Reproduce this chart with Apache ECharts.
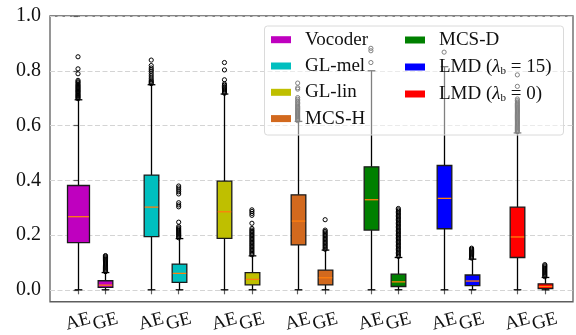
<!DOCTYPE html>
<html>
<head>
<meta charset="utf-8">
<script src="https://cdn.jsdelivr.net/npm/echarts@6/dist/echarts.min.js"></script>
<style>
  html, body { margin: 0; padding: 0; background: #ffffff; }
  #chart { width: 576px; height: 335px; }
</style>
</head>
<body>
<div id="chart"></div>
<script>
// Methods compared, one colour each
const methods = ['Vocoder', 'GL-mel', 'GL-lin', 'MCS-H', 'MCS-D', 'LMD (λb = 15)', 'LMD (λb = 0)'];
const errorLabels = ['AE', 'GE'];
const yTicks = [0.0, 0.2, 0.4, 0.6, 0.8, 1.0];

// Box summaries: [lower whisker, Q1, median, Q3, upper whisker]
const aeStats = [
  [0, 0.172, 0.267, 0.381, 0.694],
  [0, 0.194, 0.302, 0.419, 0.749],
  [0, 0.188, 0.285, 0.397, 0.715],
  [0, 0.164, 0.251, 0.347, 0.615],
  [0, 0.218, 0.329, 0.449, 0.800],
  [0, 0.223, 0.334, 0.454, 0.815],
  [0, 0.118, 0.193, 0.302, 0.573]
];
const geStats = [
  [0, 0.009, 0.017, 0.033, 0.063],
  [0, 0.027, 0.060, 0.094, 0.187],
  [0, 0.018, 0.038, 0.063, 0.124],
  [0, 0.018, 0.044, 0.072, 0.145],
  [0, 0.012, 0.029, 0.057, 0.118],
  [0, 0.015, 0.032, 0.054, 0.112],
  [0, 0.004, 0.012, 0.022, 0.045]
];

// Outlying samples beyond the whiskers
const aeOutliers = [
  [0.698, 0.702, 0.705, 0.709, 0.712, 0.716, 0.720, 0.724, 0.727, 0.731, 0.735, 0.739, 0.743, 0.747, 0.751, 0.756, 0.760, 0.765, 0.789, 0.807, 0.851],
  [0.753, 0.757, 0.761, 0.766, 0.773, 0.781, 0.789, 0.797, 0.803, 0.810, 0.819, 0.839],
  [0.718, 0.722, 0.726, 0.730, 0.734, 0.738, 0.742, 0.747, 0.752, 0.767, 0.803, 0.830],
  [0.618, 0.622, 0.626, 0.630, 0.634, 0.638, 0.642, 0.646, 0.650, 0.654, 0.658, 0.662, 0.666, 0.670, 0.675, 0.680, 0.685, 0.690, 0.696, 0.702, 0.733, 0.738, 0.755],
  [0.830, 0.873, 0.882],
  [0.868],
  [0.577, 0.581, 0.585, 0.589, 0.593, 0.597, 0.601, 0.605, 0.609, 0.613, 0.617, 0.621, 0.625, 0.629, 0.633, 0.637, 0.641, 0.645, 0.649, 0.653, 0.657, 0.661, 0.665, 0.669, 0.673, 0.677, 0.681, 0.686, 0.691, 0.697, 0.743, 0.785]
];
const geOutliers = [
  [0.066, 0.070, 0.074, 0.078, 0.082, 0.086, 0.090, 0.094, 0.098, 0.102, 0.106, 0.110, 0.114, 0.118, 0.122, 0.125],
  [0.190, 0.194, 0.198, 0.202, 0.206, 0.210, 0.214, 0.218, 0.222, 0.226, 0.231, 0.247, 0.303, 0.310, 0.318, 0.350, 0.358, 0.365, 0.372, 0.379],
  [0.128, 0.133, 0.138, 0.143, 0.148, 0.153, 0.158, 0.163, 0.168, 0.173, 0.178, 0.183, 0.188, 0.193, 0.198, 0.203, 0.208, 0.213, 0.218, 0.224, 0.243, 0.272, 0.279, 0.286, 0.292],
  [0.148, 0.153, 0.158, 0.163, 0.168, 0.173, 0.178, 0.183, 0.188, 0.193, 0.198, 0.203, 0.208, 0.213, 0.218, 0.256],
  [0.122, 0.127, 0.132, 0.137, 0.142, 0.147, 0.152, 0.157, 0.162, 0.167, 0.172, 0.177, 0.182, 0.187, 0.192, 0.197, 0.202, 0.207, 0.212, 0.217, 0.222, 0.227, 0.232, 0.237, 0.242, 0.247, 0.252, 0.257, 0.262, 0.267, 0.272, 0.277, 0.282, 0.287, 0.292, 0.297],
  [0.116, 0.120, 0.124, 0.128, 0.132, 0.136, 0.140, 0.144, 0.148, 0.152],
  [0.048, 0.052, 0.056, 0.060, 0.064, 0.068, 0.072, 0.076, 0.080, 0.084, 0.088, 0.092]
];

// Styling
const colors = ['#bf00bf', '#00bfbf', '#bfbf00', '#d2691e', '#008000', '#0000ff', '#ff0000'];
const GROUP_STEP = 2;      // distance between method groups on the x scale
const GE_OFFSET = 0.75;    // GE box sits to the right of the AE box
const AE_WIDTHS = [0.6, 0.4, 0.4, 0.4, 0.4, 0.4, 0.4];
const GE_WIDTH = 0.4;
const CAP_WIDTH = 0.21;
const FONT = "'Liberation Serif', 'Times New Roman', serif";

const tickPositions = [];
const tickText = {};
methods.forEach((m, i) => {
  const a = i * GROUP_STEP, g = i * GROUP_STEP + GE_OFFSET;
  tickPositions.push(a, g);
  tickText[a] = errorLabels[0];
  tickText[g] = errorLabels[1];
});

function renderBox(params, api) {
  const x = api.value(0);
  const lo = api.coord([x, api.value(1)]);
  const q1 = api.coord([x, api.value(2)]);
  const med = api.coord([x, api.value(3)]);
  const q3 = api.coord([x, api.value(4)]);
  const hi = api.coord([x, api.value(5)]);
  const half = api.size([api.value(6), 0])[0] / 2;
  const cap = api.size([CAP_WIDTH, 0])[0] / 2;
  const color = colors[api.value(7)];
  const cx = Math.round(lo[0]) + 0.5;
  const line = { stroke: '#000', lineWidth: 1.3 };
  return {
    type: 'group',
    children: [
      { type: 'line', shape: { x1: cx, y1: lo[1], x2: cx, y2: q1[1] }, style: line },
      { type: 'line', shape: { x1: cx, y1: q3[1], x2: cx, y2: hi[1] }, style: line },
      { type: 'line', shape: { x1: cx - cap, y1: lo[1], x2: cx + cap, y2: lo[1] }, style: line },
      { type: 'line', shape: { x1: cx - cap, y1: hi[1], x2: cx + cap, y2: hi[1] }, style: line },
      { type: 'rect', shape: { x: cx - half, y: q3[1], width: half * 2, height: q1[1] - q3[1] },
        style: { fill: color, stroke: '#1a1a1a', lineWidth: 1.3 } },
      { type: 'line', shape: { x1: cx - half + 0.6, y1: med[1], x2: cx + half - 0.6, y2: med[1] },
        style: { stroke: '#ff7f0e', lineWidth: 1.3 } }
    ]
  };
}

const series = methods.map((name, i) => ({
  name: name,
  type: 'custom',
  renderItem: renderBox,
  itemStyle: { color: colors[i] },
  encode: { x: 0, y: [1, 2, 3, 4, 5] },
  data: [
    [i * GROUP_STEP].concat(aeStats[i], [AE_WIDTHS[i], i]),
    [i * GROUP_STEP + GE_OFFSET].concat(geStats[i], [GE_WIDTH, i])
  ],
  z: 2
}));

const outlierPoints = [];
methods.forEach((m, i) => {
  aeOutliers[i].forEach(v => outlierPoints.push([i * GROUP_STEP, v]));
  geOutliers[i].forEach(v => outlierPoints.push([i * GROUP_STEP + GE_OFFSET, v]));
});
series.push({
  name: 'outliers',
  type: 'scatter',
  data: outlierPoints,
  symbol: 'circle',
  symbolSize: 4.2,
  itemStyle: { color: 'rgba(255,255,255,0)', borderColor: '#000', borderWidth: 1, opacity: 1 },
  emphasis: { disabled: true },
  silent: true,
  z: 3
});

function legendLabel(name) {
  const m = name.match(/^LMD \(λb = (\d+)\)$/);
  if (m) return 'LMD ({g|λ}{s|b}{t| = ' + m[1] + '})';
  return name;
}
const legendText = {
  fontFamily: FONT, fontSize: 19, color: '#111', lineHeight: 20, padding: [0, 0, 0, 9],
  rich: {
    g: { fontFamily: FONT, fontStyle: 'italic', fontSize: 19, lineHeight: 20 },
    s: { fontFamily: FONT, fontSize: 11, lineHeight: 11, verticalAlign: 'bottom' },
    t: { fontFamily: FONT, fontSize: 19, lineHeight: 20 }
  }
};

const chart = echarts.init(document.getElementById('chart'), null, { renderer: 'canvas' });
chart.setOption({
  animation: false,
  backgroundColor: '#ffffff',
  grid: {
    left: 50, right: 3, top: 16, bottom: 32.3,
    show: true, borderColor: '#5e5e5e', borderWidth: 1.3, backgroundColor: 'transparent'
  },
  xAxis: {
    type: 'value',
    min: -0.765, max: 13.52,
    axisLine: { show: false },
    splitLine: { show: false },
    axisTick: { show: true, customValues: tickPositions, length: 4.5, lineStyle: { color: '#5e5e5e', width: 1.2 } },
    axisLabel: {
      customValues: tickPositions,
      formatter: v => tickText[v] || '',
      rotate: 15, align: 'center', verticalAlign: 'middle', margin: 20,
      fontFamily: FONT, fontSize: 19, color: '#111'
    }
  },
  yAxis: {
    type: 'value',
    min: -0.0437, max: 1.0,
    axisLine: { show: false },
    axisTick: { show: true, customValues: yTicks, length: 4.5, lineStyle: { color: '#5e5e5e', width: 1.2 } },
    axisLabel: {
      customValues: yTicks,
      formatter: v => v.toFixed(1),
      margin: 9, fontFamily: FONT, fontSize: 20, color: '#111'
    },
    splitLine: { show: true, lineStyle: { color: '#d4d4d4', width: 1, type: [5, 2.5] } }
  },
  legend: [
    {
      data: methods.slice(0, 4), orient: 'vertical', left: 271, top: 29.7, padding: 0,
      icon: 'rect', itemWidth: 20, itemHeight: 7, itemGap: 6.3,
      itemStyle: { borderWidth: 0 }, textStyle: legendText, formatter: legendLabel,
      selectedMode: false, z: 20
    },
    {
      data: methods.slice(4), orient: 'vertical', left: 405, top: 30, padding: 0,
      icon: 'rect', itemWidth: 20, itemHeight: 7, itemGap: 7,
      itemStyle: { borderWidth: 0 }, textStyle: legendText, formatter: legendLabel,
      selectedMode: false, z: 20
    }
  ],
  graphic: [{
    type: 'rect', z: 10, silent: true,
    shape: { x: 264.5, y: 26, width: 299, height: 109, r: 3 },
    style: { fill: 'rgba(255,255,255,0.5)', stroke: '#dadada', lineWidth: 1 }
  }],
  series: series
});
</script>
</body>
</html>
